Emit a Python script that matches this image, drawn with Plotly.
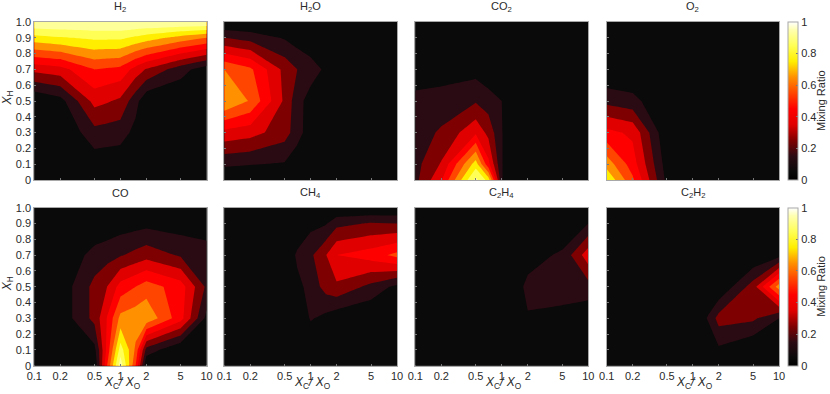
import plotly.graph_objects as go

WIDTH = 830
HEIGHT = 394

ratio_c_o = [0.1, 0.2, 0.5, 0.7, 1, 1.5, 2, 5, 10]
x_h = [0, 0.1, 0.3, 0.5, 0.7, 0.9, 1.0]

x_ticks = [0.1, 0.2, 0.5, 1, 2, 5, 10]
x_tick_labels = ["0.1", "0.2", "0.5", "1", "2", "5", "10"]
y_ticks = [0, 0.1, 0.2, 0.3, 0.4, 0.5, 0.6, 0.7, 0.8, 0.9, 1.0]
y_tick_labels = ["0", "0.1", "0.2", "0.3", "0.4", "0.5", "0.6", "0.7", "0.8", "0.9", "1.0"]
levels_start, levels_end, levels_size = 0.1, 0.9, 0.1

# one inner list per C/O column, bottom to top in x_h
h2 = [
    [0, 0, 0, 0, 0.33, 0.76, 1],
    [0, 0, 0, 0.06, 0.36, 0.79, 1],
    [0, 0.04, 0.165, 0.335, 0.5, 0.82, 1],
    [0, 0.035, 0.155, 0.31, 0.485, 0.82, 1],
    [0, 0.03, 0.145, 0.28, 0.47, 0.82, 1],
    [0, 0.01, 0.07, 0.135, 0.36, 0.78, 1],
    [0, 0, 0.01, 0.02, 0.29, 0.75, 1],
    [0, 0, 0, 0.01, 0.14, 0.66, 1],
    [0, 0, 0, 0, 0.04, 0.6, 1],
]
h2o = [
    [0, 0.12, 0.37, 0.702, 0.6, 0.2, 0],
    [0, 0.105, 0.34, 0.59, 0.52, 0.16, 0],
    [0.01, 0.09, 0.245, 0.28, 0.27, 0.09, 0],
    [0, 0.03, 0.145, 0.14, 0.2, 0.05, 0],
    [0, 0, 0.04, 0.055, 0.15, 0.02, 0],
    [0, 0, 0, 0.01, 0.08, 0, 0],
    [0, 0, 0, 0, 0, 0, 0],
    [0, 0, 0, 0, 0, 0, 0],
    [0, 0, 0, 0, 0, 0, 0],
]
co2 = [
    [0.17, 0.165, 0.165, 0.15, 0, 0, 0],
    [0.39, 0.31, 0.21, 0.16, 0.03, 0, 0],
    [0.93, 0.75, 0.38, 0.19, 0.06, 0, 0],
    [0.76, 0.43, 0.27, 0.15, 0.02, 0, 0],
    [0.105, 0.105, 0.105, 0.1, 0, 0, 0],
    [0, 0, 0, 0, 0, 0, 0],
    [0, 0, 0, 0, 0, 0, 0],
    [0, 0, 0, 0, 0, 0, 0],
    [0, 0, 0, 0, 0, 0, 0],
]
o2 = [
    [0.79, 0.66, 0.43, 0.17, 0, 0, 0],
    [0.52, 0.45, 0.38, 0.134, 0, 0, 0],
    [0.07, 0.05, 0.01, 0, 0, 0, 0],
    [0, 0, 0, 0, 0, 0, 0],
    [0, 0, 0, 0, 0, 0, 0],
    [0, 0, 0, 0, 0, 0, 0],
    [0, 0, 0, 0, 0, 0, 0],
    [0, 0, 0, 0, 0, 0, 0],
    [0, 0, 0, 0, 0, 0, 0],
]
co = [
    [0, 0, 0, 0, 0, 0, 0],
    [0, 0, 0.03, 0.03, 0, 0, 0],
    [0, 0.07, 0.23, 0.23, 0.14, 0.01, 0],
    [0.5, 0.43, 0.405, 0.3, 0.16, 0.03, 0],
    [0.97, 0.85, 0.63, 0.44, 0.19, 0.05, 0],
    [0.5, 0.58, 0.66, 0.5, 0.23, 0.06, 0],
    [0, 0.16, 0.68, 0.55, 0.26, 0.07, 0],
    [0, 0, 0.44, 0.45, 0.186, 0.05, 0],
    [0, 0, 0.07, 0.18, 0.15, 0.04, 0],
]
ch4 = [
    [0, 0, 0, 0, 0, 0, 0],
    [0, 0, 0, 0, 0, 0, 0],
    [0, 0, 0, 0, 0, 0, 0],
    [0, 0, 0, 0.07, 0.12, 0, 0],
    [0, 0, 0.11, 0.135, 0.18, 0.07, 0],
    [0, 0, 0.07, 0.24, 0.295, 0.09, 0],
    [0, 0, 0.03, 0.28, 0.4, 0.17, 0],
    [0, 0, 0, 0.17, 0.45, 0.21, 0],
    [0, 0, 0, 0.07, 0.53, 0.2, 0],
]
c2h4 = [
    [0, 0, 0, 0, 0, 0, 0],
    [0, 0, 0, 0, 0, 0, 0],
    [0, 0, 0, 0, 0, 0, 0],
    [0, 0, 0, 0, 0, 0, 0],
    [0, 0, 0, 0, 0, 0, 0],
    [0, 0, 0, 0.06, 0, 0, 0],
    [0, 0, 0.09, 0.13, 0.05, 0, 0],
    [0, 0, 0.05, 0.17, 0.12, 0, 0],
    [0, 0, 0.02, 0.16, 0.36, 0.1, 0],
]
c2h2 = [
    [0, 0, 0, 0, 0, 0, 0],
    [0, 0, 0, 0, 0, 0, 0],
    [0, 0, 0, 0, 0, 0, 0],
    [0, 0, 0, 0, 0, 0, 0],
    [0, 0, 0, 0, 0, 0, 0],
    [0, 0, 0.11, 0, 0, 0, 0],
    [0, 0.08, 0.24, 0, 0, 0, 0],
    [0, 0, 0.22, 0.25, 0, 0, 0],
    [0, 0, 0.1, 0.65, 0.06, 0, 0],
]

species = [h2, h2o, co2, o2, co, ch4, c2h4, c2h2]
species_names = [
    "H<sub>2</sub>", "H<sub>2</sub>O", "CO<sub>2</sub>", "O<sub>2</sub>",
    "CO", "CH<sub>4</sub>", "C<sub>2</sub>H<sub>4</sub>", "C<sub>2</sub>H<sub>2</sub>",
]

band_colors = [
    "#0a0a0a", "#2b0b13", "#7f0000", "#e00000", "#ff0000",
    "#ff4500", "#ff9000", "#ffee00", "#ffff55", "#ffff99",
]
bar_scale = [
    [0, "#000000"], [0.05, "#0a0a0a"], [0.15, "#2b0b13"], [0.25, "#7f0000"],
    [0.35, "#e00000"], [0.45, "#ff0000"], [0.55, "#ff4500"], [0.65, "#ff9000"],
    [0.75, "#ffee00"], [0.85, "#ffff55"], [0.95, "#ffffb0"], [1, "#ffffff"],
]

TEXT = "#2a2a2a"
AXIS = "#a8a8a8"
FONT = "Liberation Sans, Arial, sans-serif"

column_px = [(34.3, 206.6), (224.3, 397), (415.3, 588.3), (606.7, 779)]
row_px = [(22, 180), (207.7, 365.7)]
bar_px = (787.7, 797.7)


def px_x(px):
    return px / WIDTH


def px_y(px):
    return 1 - px / HEIGHT


def transpose(columns):
    return [list(row) for row in zip(*columns)]


def add_text(fig, x, y, text, size=11, angle=0):
    fig.add_annotation(
        x=px_x(x),
        y=px_y(y),
        xref="paper",
        yref="paper",
        xanchor="center",
        yanchor="middle",
        text=text,
        textangle=angle,
        showarrow=False,
        font={"size": size, "color": TEXT},
    )


fig = go.Figure()
band_scale = [[i / (len(band_colors) - 1), c] for i, c in enumerate(band_colors)]

layout = {}
for i, (values, name) in enumerate(zip(species, species_names)):
    row, col = divmod(i, 4)
    suffix = "" if i == 0 else str(i + 1)
    left, right = column_px[col]
    top, bottom = row_px[row]

    fig.add_trace(
        go.Contour(
            x=ratio_c_o,
            y=x_h,
            z=transpose(values),
            xaxis="x" + suffix,
            yaxis="y" + suffix,
            colorscale=band_scale,
            zmin=0,
            zmax=1,
            autocontour=False,
            contours={
                "start": levels_start,
                "end": levels_end,
                "size": levels_size,
                "coloring": "fill",
                "showlines": False,
            },
            line={"width": 0, "smoothing": 0},
            showscale=False,
            hoverinfo="skip",
        )
    )

    layout["xaxis" + suffix] = {
        "domain": [px_x(left), px_x(right)],
        "anchor": "y" + suffix,
        "type": "log",
        "range": [-1, 1],
        "tickmode": "array",
        "tickvals": x_ticks,
        "ticktext": x_tick_labels,
        "showticklabels": row == 1,
        "ticks": "inside",
        "ticklen": 2,
        "tickcolor": "#777777",
        "showgrid": False,
        "zeroline": False,
        "showline": True,
        "mirror": True,
        "linecolor": AXIS,
        "linewidth": 1,
    }
    layout["yaxis" + suffix] = {
        "domain": [px_y(bottom), px_y(top)],
        "anchor": "x" + suffix,
        "range": [0, 1],
        "tickmode": "array",
        "tickvals": y_ticks,
        "ticktext": y_tick_labels,
        "showticklabels": col == 0,
        "ticks": "inside",
        "ticklen": 2,
        "tickcolor": "#777777",
        "showgrid": False,
        "zeroline": False,
        "showline": True,
        "mirror": True,
        "linecolor": AXIS,
        "linewidth": 1,
    }

    add_text(fig, (left + right) / 2, top - 15, name)
    if row == 1:
        add_text(
            fig,
            (left + right) / 2 + 2,
            383,
            "<i>X</i><sub>C</sub><i>/</i> <i>X</i><sub>O</sub>",
            size=12,
        )
    if col == 0:
        add_text(fig, 7.5, (top + bottom) / 2 - 3, "<i>X</i><sub>H</sub>", size=12, angle=-90)
    if col == 3:
        add_text(fig, 821, (top + bottom) / 2, "Mixing Ratio", angle=-90)

# colorbars are carried by empty marker traces so they stay a smooth ramp
for row, suffix in enumerate(["4", "8"]):
    top, bottom = row_px[row]
    fig.add_trace(
        go.Scatter(
            x=[None],
            y=[None],
            xaxis="x" + suffix,
            yaxis="y" + suffix,
            mode="markers",
            showlegend=False,
            hoverinfo="skip",
            marker={
                "color": [0],
                "cmin": 0,
                "cmax": 1,
                "colorscale": bar_scale,
                "colorbar": {
                    "x": px_x(bar_px[0]),
                    "xanchor": "left",
                    "xpad": 0,
                    "y": px_y(bottom),
                    "yanchor": "bottom",
                    "ypad": 0,
                    "len": (bottom - top) / HEIGHT,
                    "lenmode": "fraction",
                    "thickness": bar_px[1] - bar_px[0],
                    "thicknessmode": "pixels",
                    "outlinecolor": AXIS,
                    "outlinewidth": 1,
                    "ticks": "inside",
                    "ticklen": 2,
                    "tickcolor": "#777777",
                    "tickmode": "array",
                    "tickvals": [0, 0.2, 0.4, 0.6, 0.8, 1],
                    "ticktext": ["0", "0.2", "0.4", "0.6", "0.8", "1"],
                    "tickfont": {"size": 11, "color": TEXT},
                },
            },
        )
    )

fig.update_layout(
    width=WIDTH,
    height=HEIGHT,
    margin={"l": 0, "r": 0, "t": 0, "b": 0, "pad": 0, "autoexpand": False},
    paper_bgcolor="#ffffff",
    plot_bgcolor="#0a0a0a",
    showlegend=False,
    font={"family": FONT, "size": 11, "color": TEXT},
    **layout,
)

fig.write_html(
    "out.html",
    config={"displayModeBar": False},
    post_script="document.body.style.margin='0';",
)
